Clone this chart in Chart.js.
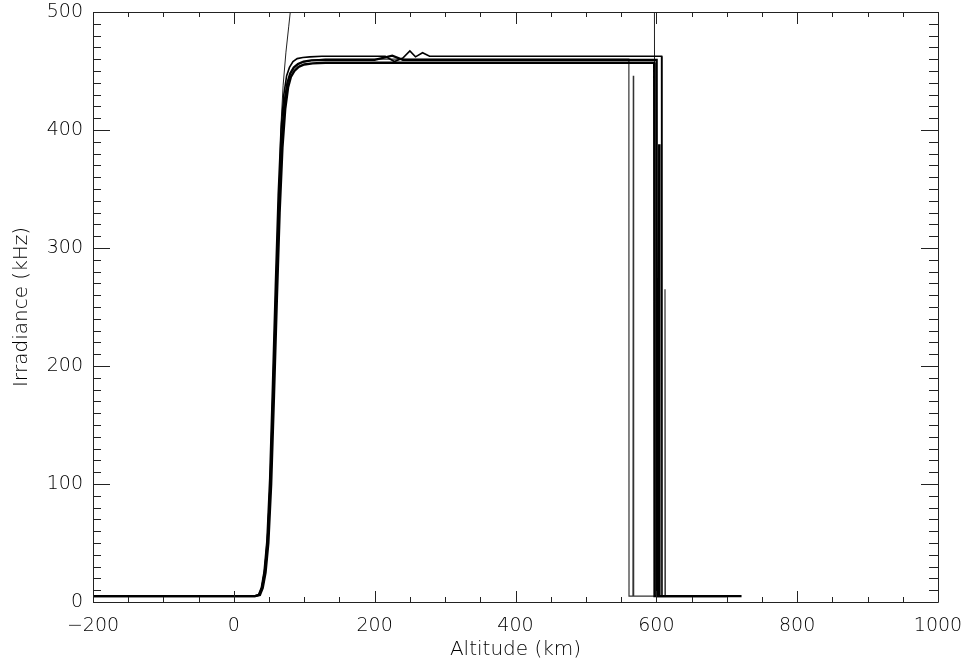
<!DOCTYPE html>
<html>
<head>
<meta charset="utf-8">
<script src="https://cdn.jsdelivr.net/npm/chart.js@4"></script>
<style>
  html, body { margin: 0; padding: 0; background: #fff; }
  #wrap { width: 972px; height: 668px; }
</style>
</head>
<body>
<div id="wrap"><canvas id="c" width="972" height="668"></canvas></div>
<script>
// ---- Data ----
const xTitle = 'Altitude (km)';
const yTitle = 'Irradiance (kHz)';
const xRange = [-200, 1000];
const yRange = [0, 500];
const xMajorStep = 200, xMinorStep = 50;
const yMajorStep = 100, yMinorStep = 10;

// Series 1 (thick, lowest plateau)
const alt1 = [-200, -100, 0, 30, 37, 41, 45, 49, 53, 57, 61, 65, 69, 73, 77, 81, 86, 92, 100, 112, 130, 200, 300, 400, 500, 597, 597.5, 620, 680, 721];
const irr1 = [5, 5, 5, 5, 6, 12, 25, 50, 100, 175, 255, 330, 385, 418, 436, 445, 450, 453.5, 455.5, 456.5, 457, 457, 457, 457, 457, 457, 5, 5, 5, 5];

// Series 2 (thick, middle plateau)
const alt2 = [-200, -100, 0, 30, 36, 40, 44, 48, 52, 56, 60, 64, 68, 72, 76, 80, 85, 91, 99, 110, 130, 200, 225, 240, 300, 400, 500, 600.5, 601, 603.5, 604, 604.5, 640, 700];
const irr2 = [5, 5, 5, 5, 6, 12, 25, 50, 100, 178, 260, 336, 392, 424, 440, 448, 453, 456, 458, 459, 459.5, 459.5, 463, 459.5, 459.5, 459.5, 459.5, 459.5, 5, 5, 388, 5, 5, 5];

// Series 3 (medium, highest plateau with two bumps)
const alt3 = [-200, -100, 0, 30, 35, 39, 43, 47, 51, 55, 59, 63, 67, 71, 75, 79, 84, 90, 98, 108, 125, 200, 215, 228, 240, 250, 258, 268, 278, 300, 400, 500, 600, 607.5, 608, 640, 700];
const irr3 = [5, 5, 5, 5, 6, 12, 26, 52, 105, 185, 268, 345, 400, 430, 446, 453, 458, 460.5, 461.5, 462, 462.5, 462.5, 462.5, 458, 461, 467, 462, 465.5, 462.5, 462.5, 462.5, 462.5, 462.5, 462.5, 5, 5, 5];

// Series 4 (thin grey, early drop with spikes)
const alt4 = [-200, -100, 0, 30, 36, 40, 44, 48, 52, 56, 60, 64, 68, 72, 76, 80, 85, 91, 99, 110, 130, 200, 300, 400, 500, 561, 561.2, 566.8, 567.3, 567.8, 611.8, 612.3, 612.8, 650, 700];
const irr4 = [5, 5, 5, 5, 6, 12, 25, 50, 100, 178, 258, 334, 390, 422, 439, 447, 452, 455.5, 457.5, 459, 460, 460, 460, 460, 460, 460, 5, 5, 446, 5, 5, 265, 5, 5, 5];

// Series 5 (thin, overshoots the top of the plot)
const alt5 = [-200, -100, 0, 30, 36, 40, 44, 48, 52, 56, 60, 64, 67, 70, 74, 78, 82, 90, 100, 120, 200, 400, 597, 598, 598.5, 620];
const irr5 = [5, 5, 5, 5, 6, 14, 30, 60, 110, 185, 265, 345, 405, 438, 466, 488, 510, 555, 590, 620, 640, 640, 640, 640, 5, 5];

function pts(xs, ys) { return xs.map((x, i) => ({ x: x, y: ys[i] })); }

const seriesDefs = [
  { xs: alt1, ys: irr1, w: 2.4, c: '#000' },
  { xs: alt2, ys: irr2, w: 2.2, c: '#000' },
  { xs: alt3, ys: irr3, w: 1.6, c: '#000' },
  { xs: alt4, ys: irr4, w: 1.2, c: '#333' },
  { xs: alt5, ys: irr5, w: 1.0, c: '#222' }
];

const fontFam = "'DejaVu Sans', 'Liberation Sans', sans-serif";
const tickFont = { family: fontFam, size: 19, weight: 200 };
const titleFont = { family: fontFam, size: 20, weight: 200 };
const textColor = '#000';

const frameTicks = {
  id: 'frameTicks',
  afterDatasetsDraw(chart) {
    const ctx = chart.ctx;
    const a = chart.chartArea;
    const xs = chart.scales.x, ys = chart.scales.y;
    ctx.save();
    ctx.strokeStyle = '#222';
    ctx.lineWidth = 1;
    ctx.beginPath();
    ctx.rect(Math.round(a.left) + 0.5, Math.round(a.top) + 0.5, Math.round(a.right - a.left), Math.round(a.bottom - a.top));
    for (let v = xRange[0]; v <= xRange[1]; v += xMinorStep) {
      const p = Math.round(xs.getPixelForValue(v)) + 0.5;
      const major = (v - xRange[0]) % xMajorStep === 0;
      const lb = major ? 11 : 5, lt = major ? 12 : 5;
      ctx.moveTo(p, a.bottom); ctx.lineTo(p, a.bottom - lb);
      ctx.moveTo(p, a.top); ctx.lineTo(p, a.top + lt);
    }
    for (let v = yRange[0]; v <= yRange[1]; v += yMinorStep) {
      const p = Math.round(ys.getPixelForValue(v)) + 0.5;
      const major = (v - yRange[0]) % yMajorStep === 0;
      const l = major ? 17 : 8;
      const r = major ? 17 : 9;
      ctx.moveTo(a.left, p); ctx.lineTo(a.left + l, p);
      ctx.moveTo(a.right, p); ctx.lineTo(a.right - r, p);
    }
    ctx.stroke();
    ctx.restore();
  }
};

new Chart(document.getElementById('c'), {
  type: 'line',
  data: {
    datasets: seriesDefs.map(s => ({
      data: pts(s.xs, s.ys),
      borderColor: s.c,
      borderWidth: s.w,
      pointRadius: 0,
      tension: 0,
      fill: false,
      clip: 0
    }))
  },
  options: {
    responsive: false,
    animation: false,
    events: [],
    layout: { padding: { top: 12, right: 34, left: 0, bottom: 0 } },
    plugins: { legend: { display: false }, tooltip: { enabled: false } },
    scales: {
      x: {
        type: 'linear',
        min: xRange[0], max: xRange[1],
        grid: { display: false, drawTicks: false },
        border: { display: false },
        ticks: {
          stepSize: xMajorStep,
          font: tickFont, color: textColor, padding: 13,
          maxRotation: 0,
          callback: v => String(v).replace('-', '\u2212')
        },
        title: { display: true, text: xTitle, font: titleFont, color: textColor, padding: { top: 0, bottom: 6 } },
        afterFit: s => { s.height = 66; s.paddingLeft = 0; s.paddingRight = 0; }
      },
      y: {
        type: 'linear',
        min: yRange[0], max: yRange[1],
        grid: { display: false, drawTicks: false },
        border: { display: false },
        ticks: { stepSize: yMajorStep, font: tickFont, color: textColor, padding: 10 },
        title: { display: true, text: yTitle, font: titleFont, color: textColor, padding: { top: 10, bottom: 0 } },
        afterFit: s => { s.width = 93; s.paddingTop = 0; s.paddingBottom = 0; }
      }
    }
  },
  plugins: [frameTicks]
});
</script>
</body>
</html>
